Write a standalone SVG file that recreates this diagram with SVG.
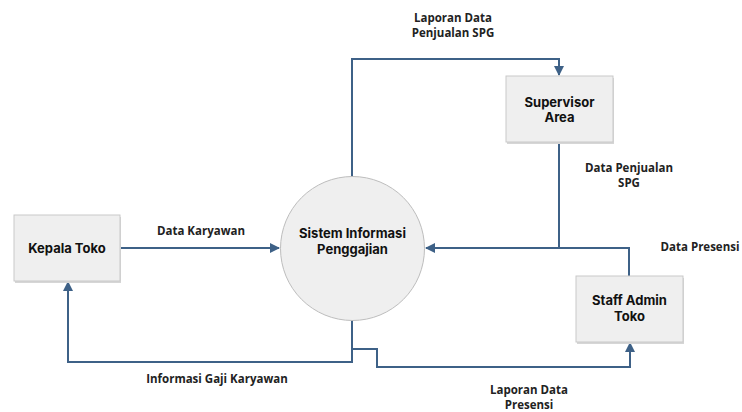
<svg xmlns="http://www.w3.org/2000/svg" width="742" height="412" viewBox="0 0 742 412">
<style>
.box{fill:#efefef;stroke:#c9c9c9;stroke-width:1}
.sh{fill:#d6d6d6}
.nt{font-family:Inter,"Noto Sans",sans-serif;font-weight:700;font-size:13px;fill:#111;text-anchor:middle}
.lb{font-family:"Open Sans","Noto Sans",sans-serif;font-weight:700;font-size:11.5px;fill:#222;text-anchor:middle}
.ln{fill:none;stroke:#3e6187;stroke-width:2}
</style>
<defs>
<marker id="ah" viewBox="0 0 10 10" refX="9" refY="5" markerWidth="5" markerHeight="5" orient="auto" markerUnits="strokeWidth">
<path d="M0,0 L10,5 L0,10 z" fill="#3e6187"/>
</marker>
</defs>
<rect width="742" height="412" fill="#fff"/>
<g id="connectors">
<polyline class="ln" points="120,248 279,248" marker-end="url(#ah)"/>
<polyline class="ln" points="352,177 352,59 559,59 559,75" marker-end="url(#ah)"/>
<polyline class="ln" points="559,142 559,248 426,248" marker-end="url(#ah)"/>
<polyline class="ln" points="629,276 629,248 558,248"/>
<polyline class="ln" points="352,320 352,362 68,362 68,282" marker-end="url(#ah)"/>
<polyline class="ln" points="352,349 377,349 377,367 630,367 630,343" marker-end="url(#ah)"/>
</g>
<g id="labels">
<text class="lb" x="201" y="235">Data Karyawan</text>
<text class="lb" x="453" y="22">Laporan Data</text>
<text class="lb" x="453" y="37">Penjualan SPG</text>
<text class="lb" x="629" y="172">Data Penjualan</text>
<text class="lb" x="629" y="187">SPG</text>
<text class="lb" x="700" y="251">Data Presensi</text>
<text class="lb" x="217" y="383">Informasi Gaji Karyawan</text>
<text class="lb" x="529" y="394">Laporan Data</text>
<text class="lb" x="529" y="409">Presensi</text>
</g>
<g id="kepala-toko">
<rect class="sh" x="15" y="217" width="106" height="66"/>
<rect class="box" x="14" y="215" width="106" height="66"/>
<text class="nt" x="67" y="253">Kepala Toko</text>
</g>
<g id="sistem-informasi-penggajian">
<circle cx="352.5" cy="248.5" r="72" fill="#efefef" stroke="#bdbdbd" stroke-width="1"/>
<text class="nt" x="352.5" y="238">Sistem Informasi</text>
<text class="nt" x="352.5" y="254">Penggajian</text>
</g>
<g id="supervisor-area">
<rect class="sh" x="507" y="78" width="107" height="66"/>
<rect class="box" x="506" y="76" width="107" height="66"/>
<text class="nt" x="559.5" y="107">Supervisor</text>
<text class="nt" x="559.5" y="122">Area</text>
</g>
<g id="staff-admin-toko">
<rect class="sh" x="577" y="278" width="107" height="66"/>
<rect class="box" x="576" y="276" width="107" height="66"/>
<text class="nt" x="629.5" y="305">Staff Admin</text>
<text class="nt" x="629.5" y="321">Toko</text>
</g>
</svg>
